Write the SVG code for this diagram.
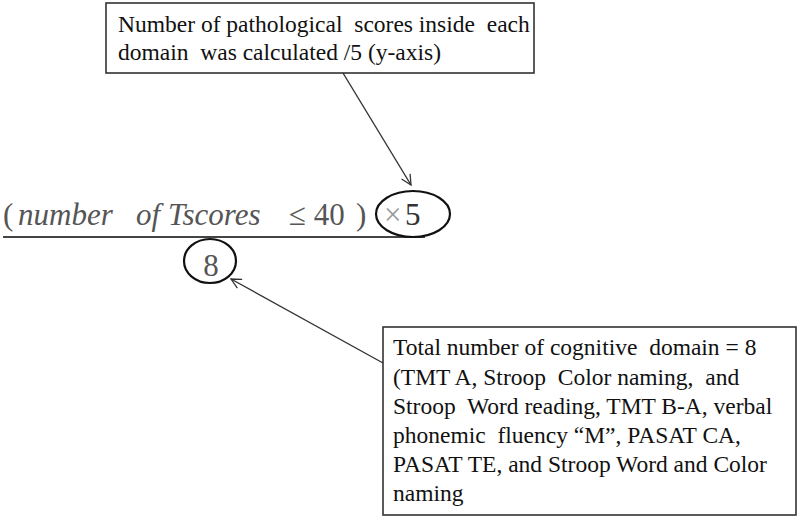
<svg xmlns="http://www.w3.org/2000/svg" width="800" height="520" viewBox="0 0 800 520">
  <defs>
    <marker id="arrow" viewBox="0 0 12 12" refX="11" refY="6" markerWidth="12" markerHeight="12" markerUnits="userSpaceOnUse" orient="auto">
      <path d="M1,1 L11,6 L1,11" fill="none" stroke="#333" stroke-width="1.3"/>
    </marker>
  </defs>
  <style>
    .box { fill: #fff; stroke: #333; stroke-width: 1.6; }
    .lbl { font-family: "Liberation Serif", "Times New Roman", serif; font-size: 23.5px; fill: #111; white-space: pre; }
    .math { font-family: "Liberation Serif", "Times New Roman", serif; font-size: 31px; fill: #555; }
    .it { font-style: italic; }
    .ring { fill: none; stroke: #111; stroke-width: 2.2; }
    .conn { stroke: #333; stroke-width: 1.4; fill: none; }
  </style>
  <rect width="800" height="520" fill="#fff"/>

  <g id="top-note">
    <rect class="box" x="106" y="3" width="428" height="70"/>
    <text class="lbl" x="118" y="32" xml:space="preserve">Number of pathological  scores inside  each</text>
    <text class="lbl" x="118" y="60" xml:space="preserve">domain  was calculated /5 (y-axis)</text>
  </g>

  <g id="formula">
    <text class="math" y="225"><tspan x="3">(</tspan><tspan class="it" x="18">number</tspan><tspan class="it" x="136">of</tspan><tspan class="it" x="168">Tscores</tspan><tspan x="289">≤ 40</tspan><tspan x="356">)</tspan><tspan x="384" fill="#999">×</tspan><tspan x="405" fill="#333">5</tspan></text>
    <line x1="3" y1="237" x2="425" y2="237" stroke="#444" stroke-width="2"/>
    <ellipse class="ring" cx="413" cy="214" rx="37" ry="23"/>
  </g>

  <g id="denominator">
    <text class="math" x="211" y="276" text-anchor="middle">8</text>
    <ellipse class="ring" cx="210" cy="261" rx="26" ry="22"/>
  </g>

  <g id="bottom-note">
    <rect class="box" x="383" y="327" width="413" height="188"/>
    <text class="lbl" x="393" y="355" xml:space="preserve">Total number of cognitive  domain = 8</text>
    <text class="lbl" x="393" y="385" xml:space="preserve">(TMT A, Stroop  Color naming,  and</text>
    <text class="lbl" x="393" y="414" xml:space="preserve">Stroop  Word reading, TMT B-A, verbal</text>
    <text class="lbl" x="393" y="443" xml:space="preserve">phonemic  fluency “M”, PASAT CA,</text>
    <text class="lbl" x="393" y="472" xml:space="preserve">PASAT TE, and Stroop Word and Color</text>
    <text class="lbl" x="393" y="501" xml:space="preserve">naming</text>
  </g>

  <g id="connectors">
    <line class="conn" x1="343" y1="73" x2="411" y2="185" marker-end="url(#arrow)"/>
    <line class="conn" x1="383" y1="363" x2="231" y2="279" marker-end="url(#arrow)"/>
  </g>
</svg>
